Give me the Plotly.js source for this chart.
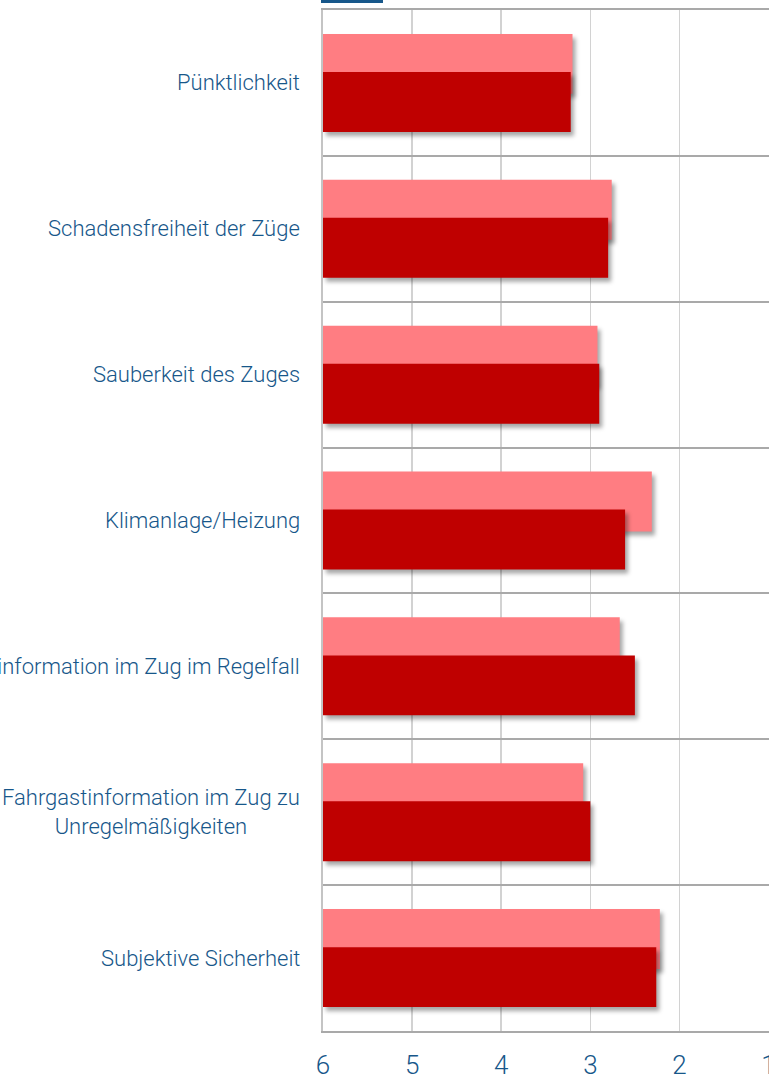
<!DOCTYPE html>
<html>
<head>
<meta charset="utf-8">
<script src="https://cdn.plot.ly/plotly-3.0.1.min.js"></script>
<style>
  html, body { margin: 0; padding: 0; background: #fff; overflow: hidden; }
  #chart { width: 769px; height: 1079px; }
  .barlayer .point path { filter: drop-shadow(3px 4px 2px rgba(0,0,0,0.35)); }
</style>
</head>
<body>
<div id="chart"></div>
<script>
const categories = [
  'Pünktlichkeit',
  'Schadensfreiheit der Züge',
  'Sauberkeit des Zuges',
  'Klimanlage/Heizung',
  'Fahrgastinformation im Zug im Regelfall',
  'Fahrgastinformation im Zug zu<br>Unregelmäßigkeiten',
  'Subjektive Sicherheit'
];
const seriesLight = [3.20, 2.76, 2.92, 2.31, 2.67, 3.08, 2.22];
const seriesDark  = [3.22, 2.80, 2.90, 2.61, 2.50, 3.00, 2.26];
const xTickVals = [6, 5, 4, 3, 2, 1];
const xTickText = ['6', '5', '4', '3', '2', '1'];
const worstGrade = 6;

const textColor = '#17578a';

const traces = [
  {
    type: 'bar', orientation: 'h',
    y: categories,
    x: seriesLight.map(v => v - worstGrade),
    base: worstGrade,
    width: 0.411, offset: -0.336,
    marker: { color: '#ff7d82', line: { width: 0 } },
    hoverinfo: 'skip'
  },
  {
    type: 'bar', orientation: 'h',
    y: categories,
    x: seriesDark.map(v => v - worstGrade),
    base: worstGrade,
    width: 0.411, offset: -0.075,
    marker: { color: '#bf0000', line: { width: 0 } },
    hoverinfo: 'skip'
  }
];

const annotations = categories.map(c => ({
  xref: 'paper', x: 0, xanchor: 'right', xshift: -21,
  yref: 'y', y: c, yanchor: 'middle',
  text: c, showarrow: false, align: 'center',
  font: { family: 'Roboto, sans-serif', size: 22, weight: 300, color: textColor }
}));

const layout = {
  width: 769, height: 1079,
  margin: { l: 323, r: 0, t: 10, b: 48 },
  paper_bgcolor: '#fff', plot_bgcolor: '#fff',
  barmode: 'overlay',
  showlegend: false,
  xaxis: {
    range: [6, 0.995],
    tickvals: xTickVals, ticktext: xTickText,
    showgrid: true, gridcolor: '#d2d2d2', gridwidth: 1.5,
    zeroline: false,
    showline: true, linecolor: '#a9a9a9', linewidth: 2, mirror: true,
    ticks: '', ticklabelstandoff: 10, ticklabeloverflow: 'allow',
    tickfont: { family: 'Roboto, sans-serif', size: 26, weight: 300, color: textColor },
    fixedrange: true
  },
  yaxis: {
    type: 'category',
    range: [6.5, -0.5],
    tickson: 'boundaries',
    showgrid: true, gridcolor: '#a9a9a9', gridwidth: 2,
    showticklabels: false, ticks: '',
    zeroline: false,
    showline: true, linecolor: '#c4c4c4', linewidth: 2,
    fixedrange: true
  },
  annotations: annotations,
  shapes: [
    { type: 'rect', xref: 'paper', yref: 'paper',
      x0: -0.0045, x1: 0.1345, y0: 1.0069, y1: 1.0098,
      fillcolor: textColor, line: { width: 0 } }
  ]
};

Plotly.newPlot('chart', traces, layout, { displayModeBar: false, staticPlot: true });
</script>
</body>
</html>
